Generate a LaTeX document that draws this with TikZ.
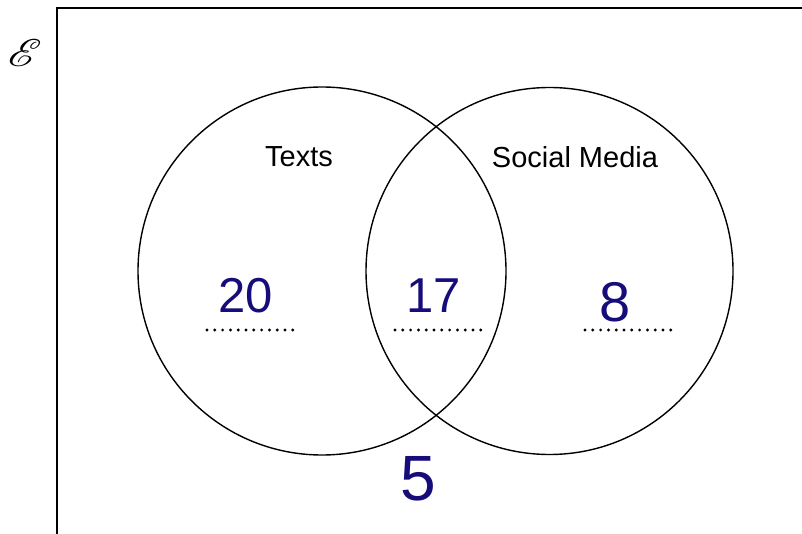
\documentclass[tikz,border=0pt]{standalone}
\usepackage{graphicx}
\usepackage{fontspec}
\usepackage{mathrsfs}
\setmainfont{Liberation Sans}
\definecolor{inkblue}{RGB}{22,12,122}
\tikzset{
  setring/.style={draw=black, line width=1.4pt, circle},
  setname/.style={font=\fontsize{29}{29}\selectfont, inner sep=0pt},
  tally/.style={text=inkblue, inner sep=0pt, font=\fontsize{#1}{#1}\selectfont},
  answerdot/.style={fill=black, draw=none}
}
\begin{document}
\begin{tikzpicture}[x=1pt,y=-1pt]
  \useasboundingbox (0,0) rectangle (802,534);
  % universal set frame (runs off the page to the right and bottom)
  \draw[line width=1.8pt] (57,560) -- (57,8) -- (830,8);
  \node[inner sep=0pt] (univ) at (25,53) {\resizebox{34pt}{27pt}{$\mathscr{E}$}};

  % the two sets
  \node[setring, minimum size=368pt, inner sep=0pt] (texts) at (322,271) {};
  \node[setring, minimum size=367pt, inner sep=0pt] (social) at (549.5,271) {};
  \node[setname] (textsname) at (299,157) {Texts};
  \node[setname] (socialname) at (575,157) {Social Media};

  % answer lines: twelve dots each
  \foreach \x/\n in {207/a,395/b,585/c}{
    \coordinate (line\n) at (\x,330);
    \foreach \k in {0,...,11}
      \fill[answerdot] ([xshift=\k*7.8pt]line\n) circle (1.6pt);
  }

  % counts written in
  \node[tally=49] (onlytexts) at (246,296) {20};
  \node[tally=49] (both) at (434,296) {17};
  \node[tally=56] (onlysocial) at (615,302) {8};
  \node[tally=64] (neither) at (418,479) {5};
\end{tikzpicture}
\end{document}
